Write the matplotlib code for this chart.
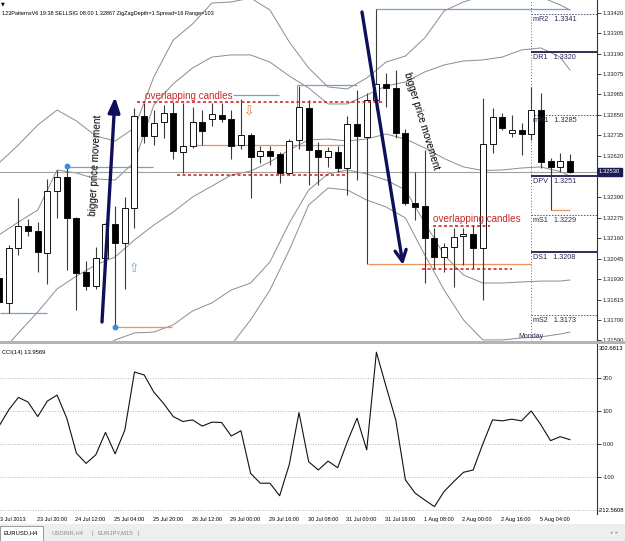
import matplotlib.pyplot as plt
from matplotlib.patches import Rectangle

# ---- EURUSD H4 candles, 23 Jul 2013 04:00 .. 5 Aug 2013 ----
opens = [1.31937, 1.31797, 1.32105, 1.32228, 1.32200, 1.32077, 1.32423, 1.32502, 1.32272, 1.31971,
         1.31892, 1.32049, 1.32239, 1.32133, 1.32328, 1.32843, 1.32731, 1.32809, 1.32859, 1.32641,
         1.32675, 1.32809, 1.32826, 1.32848, 1.32826, 1.32680, 1.32736, 1.32619, 1.32647, 1.32630,
         1.32524, 1.32708, 1.32887, 1.32652, 1.32613, 1.32641, 1.32552, 1.32798, 1.32725, 1.32932,
         1.33021, 1.32999, 1.32748, 1.32356, 1.32339, 1.32161, 1.32054, 1.32110, 1.32172, 1.32183,
         1.32105, 1.32686, 1.32837, 1.32748, 1.32764, 1.32742, 1.32876, 1.32591, 1.32557, 1.32591]
highs = [1.31971, 1.32121, 1.32384, 1.32267, 1.32250, 1.32490, 1.32541, 1.32563, 1.32278, 1.32032,
         1.32110, 1.32244, 1.32339, 1.32390, 1.32887, 1.32915, 1.32876, 1.32904, 1.32921, 1.32915,
         1.32893, 1.32876, 1.32915, 1.32915, 1.32876, 1.32938, 1.32748, 1.32675, 1.32675, 1.32641,
         1.32714, 1.33010, 1.32932, 1.32697, 1.32669, 1.32675, 1.32843, 1.32988, 1.32971, 1.33441,
         1.33083, 1.33100, 1.32770, 1.32530, 1.32652, 1.32216, 1.32133, 1.32216, 1.32216, 1.32233,
         1.32943, 1.32887, 1.32859, 1.32848, 1.32803, 1.33005, 1.32971, 1.32608, 1.32636, 1.32630]
lows = [1.31786, 1.31741, 1.32066, 1.32172, 1.31971, 1.31903, 1.32272, 1.31982, 1.31758, 1.31870,
        1.31875, 1.32026, 1.31663, 1.31875, 1.32216, 1.32692, 1.32680, 1.32720, 1.32602, 1.32524,
        1.32664, 1.32680, 1.32787, 1.32809, 1.32602, 1.32658, 1.32384, 1.32580, 1.32569, 1.32468,
        1.32513, 1.32658, 1.32457, 1.32457, 1.32557, 1.32530, 1.32401, 1.32485, 1.32015, 1.32876,
        1.32893, 1.32720, 1.32345, 1.32261, 1.31909, 1.31993, 1.31971, 1.31887, 1.32010, 1.31993,
        1.31814, 1.32636, 1.32764, 1.32725, 1.32625, 1.32708, 1.32552, 1.32317, 1.32530, 1.32524]
closes = [1.31803, 1.32105, 1.32228, 1.32200, 1.32082, 1.32423, 1.32502, 1.32272, 1.31965, 1.31892,
          1.32049, 1.32239, 1.32133, 1.32328, 1.32843, 1.32731, 1.32803, 1.32859, 1.32647, 1.32675,
          1.32809, 1.32759, 1.32854, 1.32826, 1.32675, 1.32736, 1.32613, 1.32647, 1.32619, 1.32524,
          1.32703, 1.32893, 1.32652, 1.32613, 1.32647, 1.32552, 1.32798, 1.32731, 1.32932, 1.33021,
          1.32999, 1.32748, 1.32356, 1.32334, 1.32161, 1.32054, 1.32110, 1.32166, 1.32183, 1.32105,
          1.32686, 1.32837, 1.32775, 1.32764, 1.32742, 1.32876, 1.32585, 1.32557, 1.32591, 1.32530]

cci = [55, 104, 142, 128, 84, 131, 149, 79, -27, -58, -32, 36, -29, 43, 219, 210, 158, 124, 84, 69,
       74, 55, 67, 66, 25, 41, -88, -118, -118, -156, -61, 96, -53, -78, -51, -71, 8, 79, -17, 279,
       175, 74, -108, -148, -169, -189, -143, -113, -85, -78, 1, 74, 71, 76, 71, 101, 59, 11, 23, 13.9569]

# Bollinger bands (20, 2) and (20, 3), read every second bar
band_bars = [0, 2, 4, 6, 8, 10, 12, 14, 16, 18, 20, 22, 24, 26, 28, 30, 32, 34, 36, 38,
             40, 42, 44, 46, 48, 50, 52, 54, 56, 58, 59]
bb_up3 = [1.32580, 1.32681, 1.32792, 1.32876, 1.32815, 1.32731, 1.32703, 1.32776, 1.33061, 1.33267,
          1.33357, 1.33474, 1.33480, 1.33502, 1.33435, 1.33256, 1.33111, 1.33005, 1.32994, 1.33055,
          1.33144, 1.33178, 1.33279, 1.33430, 1.33480, 1.33513, 1.33519, 1.33519, 1.33508, 1.33463, 1.33435]
bb_up2 = [1.32178, 1.32250, 1.32317, 1.32541, 1.32524, 1.32491, 1.32485, 1.32586, 1.32904, 1.33022,
          1.33111, 1.33172, 1.33184, 1.33184, 1.33144, 1.33066, 1.32999, 1.32910, 1.32910, 1.32960,
          1.33010, 1.33033, 1.33089, 1.33128, 1.33150, 1.33156, 1.33172, 1.33212, 1.33223, 1.33172, 1.33100]
bb_mid = [1.31507, 1.31630, 1.31747, 1.31876, 1.31948, 1.32010, 1.32055, 1.32150, 1.32233, 1.32306,
          1.32390, 1.32451, 1.32513, 1.32535, 1.32586, 1.32653, 1.32709, 1.32714, 1.32703, 1.32714,
          1.32742, 1.32714, 1.32664, 1.32605, 1.32558, 1.32538, 1.32541, 1.32552, 1.32558, 1.32532, 1.32507]
bb_lo2 = [None, None, None, None, None, 1.31524, 1.31591, 1.31630, 1.31635, 1.31675,
          1.31753, 1.31798, 1.31870, 1.31909, 1.32027, 1.32245, 1.32429, 1.32519, 1.32541, 1.32519,
          1.32485, 1.32429, 1.32245, 1.32066, 1.31954, 1.31909, 1.31909, 1.31915, 1.31920, 1.31920, 1.31926]
bb_lo3 = [None] * 12 + [1.31563, 1.31703, 1.31870, 1.32094, 1.32345, 1.32440, 1.32429, 1.32373,
                        1.32334, 1.32273, 1.32066, 1.31870, 1.31703, 1.31591, 1.31591, 1.31602, 1.31608,
                        1.31624, 1.31635]

# first label is cut at the window edge in the terminal
time_labels = ["3 Jul 2013", "23 Jul 20:00", "24 Jul 12:00", "25 Jul 04:00", "25 Jul 20:00",
               "26 Jul 12:00", "29 Jul 00:00", "29 Jul 16:00", "30 Jul 08:00", "31 Jul 00:00",
               "31 Jul 16:00", "1 Aug 08:00", "2 Aug 00:00", "2 Aug 16:00", "5 Aug 04:00"]
price_ticks = [1.33420, 1.33305, 1.33190, 1.33075, 1.32965, 1.32850, 1.32735, 1.32620,
               1.32390, 1.32275, 1.32160, 1.32045, 1.31930, 1.31815, 1.31700, 1.31590]

pivot_names = ["mR2", "DR1", "mR1", "DPV", "mS1", "DS1", "mS2"]
pivot_levels = [1.3341, 1.3320, 1.3285, 1.3251, 1.3229, 1.3208, 1.3173]
monday_bar = 55

# 123 pattern lines: (level, first bar, last bar, colour)
pattern_lines = [(1.31741, 0.1, 5.0, 'blue'), (1.32557, 7.0, 15.9, 'blue'),
                 (1.31663, 12.0, 17.9, 'orange'), (1.32960, 24.2, 28.9, 'blue'),
                 (1.32680, 19.6, 36.0, 'orange'), (1.33016, 30.8, 37.0, 'blue'),
                 (1.33441, 39.0, 59.0, 'blue'), (1.32015, 38.1, 55.0, 'orange'),
                 (1.32317, 57.0, 59.0, 'orange')]
pattern_dots = [(7, 1.32563), (12, 1.31663)]
# overlapping zones: (level, first bar, last bar)
overlap_lines = [(1.32921, 14.3, 39.7), (1.32513, 18.4, 36.0),
                 (1.32228, 44.9, 50.7), (1.31987, 43.7, 53.0)]

W, H = 625, 541
fig = plt.figure(figsize=(W / 100, H / 100), dpi=100)
FONT = 'Liberation Sans'

ax = fig.add_axes([0, 1 - 341 / H, 597 / W, 341 / H])
ax2 = fig.add_axes([0, 1 - 514.4 / H, 597 / W, 170 / H])
for a in (ax, ax2):
    a.set_xlim(0.1, 61.8)
    for s in ('top', 'left', 'bottom'):
        a.spines[s].set_visible(False)
    a.spines['right'].set_color('#333333')
    a.spines['right'].set_linewidth(0.8)
    a.set_xticks([])
    a.yaxis.tick_right()
    a.tick_params(axis='y', length=3, width=0.6, pad=1, labelsize=4.2, colors='#222222')

ax.set_ylim(1.31585, 1.33491)
ax.set_yticks(price_ticks)
ax.set_yticklabels([f"{t:.5f}" for t in price_ticks], family=FONT)

# bands
gray = '#8c8c8c'
for band in (bb_up3, bb_up2, bb_mid, bb_lo2, bb_lo3):
    xs = [b for b, v in zip(band_bars, band) if v is not None]
    ys = [v for v in band if v is not None]
    ax.plot(xs, ys, color=gray, lw=0.7, zorder=1)

# bid line
ax.axhline(closes[-1], color='#a0a0a0', lw=0.8, zorder=1)

# candles
for i in range(len(opens)):
    o, h, l, c = opens[i], highs[i], lows[i], closes[i]
    ax.vlines(i, l, h, color='#3a3a3a', lw=0.8, zorder=3)
    bottom = min(o, c)
    height = max(abs(c - o), 0.000025)
    face = 'white' if c >= o else 'black'
    ax.add_patch(Rectangle((i - 0.31, bottom), 0.62, height, facecolor=face,
                           edgecolor='#111111', lw=0.7, zorder=4))

# pattern lines
pcol = {'blue': '#6fa3cf', 'orange': '#e8945e'}
for lvl, x0, x1, col in pattern_lines:
    ax.hlines(lvl, x0, x1, color=pcol[col], lw=0.9, zorder=2)
ax.vlines(30.8, 1.33016, 1.32893, color='#6fa3cf', lw=0.8, zorder=2)
for bx, by in pattern_dots:
    ax.plot(bx, by, 'o', color='#3a8ede', ms=3.2, zorder=6)

# overlapping zones
for lvl, x0, x1 in overlap_lines:
    ax.hlines(lvl, x0, x1, color='#d01818', lw=1.1, linestyles=(0, (2, 1.6)), zorder=5)
ax.text(15.1, 1.32954, "overlapping candles", color='#c82828', fontsize=7.1,
        family=FONT, va='center', ha='left', zorder=7)
ax.text(44.9, 1.32267, "overlapping candles", color='#c82828', fontsize=7.1,
        family=FONT, va='center', ha='left', zorder=7)

# big arrows and texts
navy = '#10105a'
ax.annotate('', xy=(11.99, 1.32949), xytext=(10.64, 1.31691),
            arrowprops=dict(arrowstyle='-|>,head_length=0.9,head_width=0.35', lw=2.4,
                            color=navy, shrinkA=0, shrinkB=0), zorder=8)
ax.annotate('', xy=(41.75, 1.32010), xytext=(37.51, 1.33424),
            arrowprops=dict(arrowstyle='->,head_length=0.8,head_width=0.4', lw=2.4,
                            color=navy, shrinkA=0, shrinkB=0), zorder=8)
ax.text(9.95, 1.32568, "bigger price movement", rotation=87, fontsize=7.2, family=FONT,
        ha='center', va='center', rotation_mode='anchor', zorder=7)
ax.text(43.7, 1.32814, "bigger price movement", rotation=-73, fontsize=7.2, family=FONT,
        ha='center', va='center', rotation_mode='anchor', zorder=7)
ax.text(13.95, 1.31993, "\u21e7", color='#5aaee0', fontsize=9, ha='center', va='center',
        family='DejaVu Sans', zorder=7)
ax.text(25.83, 1.32865, "\u21e9", color='#e8743e', fontsize=9, ha='center', va='center',
        family='DejaVu Sans', zorder=7)

# pivots
ax.axvline(monday_bar, color='#666680', lw=0.7, ls=(0, (1, 2)), zorder=2)
for name, lvl in zip(pivot_names, pivot_levels):
    if name.startswith('m'):
        ax.hlines(lvl, monday_bar, 61.8, color='#555570', lw=0.7, linestyles=(0, (1.5, 1.5)), zorder=2)
    else:
        ax.hlines(lvl, monday_bar, 61.8, color='#1e1e4a', lw=1.3, zorder=2)
    ax.annotate(f"{name}   {lvl:.4f}", xy=(monday_bar, lvl), xytext=(2, -2),
                textcoords='offset pixels', va='top', ha='left', fontsize=5.2,
                family=FONT, color='#2a2a50', zorder=7)
ax.text(monday_bar, 1.31608, "Monday", fontsize=5, family=FONT, color='#2a2a60',
        ha='center', va='center', zorder=7)

# highlighted bid price
ax.annotate(f"{closes[-1]:.5f}", xy=(1.0, closes[-1]), xycoords=('axes fraction', 'data'),
            xytext=(2, 0), textcoords='offset pixels', va='center', ha='left', fontsize=4.2,
            family=FONT, color='white', annotation_clip=False, zorder=9,
            bbox=dict(boxstyle='square,pad=0.25', fc='#1c1c50', ec='#1c1c50'))

# CCI pane
ax2.set_ylim(-212.5608, 302.6813)
for lv in (200, 100, 0, -100, -200):
    ax2.axhline(lv, color='#a0a0a0', lw=0.6, ls=(0, (1, 2)), zorder=1)
ax2.plot(range(len(cci)), cci, color='#111111', lw=0.8, zorder=3)
ax2.set_yticks([200, 100, 0, -100])
ax2.set_yticklabels(['200', '100', '0.00', '-100'], family=FONT)
ax2.annotate("302.6813", xy=(1.0, 1.0), xycoords='axes fraction', xytext=(2, -1.5),
             textcoords='offset pixels', va='top', ha='left', fontsize=4.2, family=FONT,
             annotation_clip=False)
ax2.annotate("-212.5608", xy=(1.0, 0.0), xycoords='axes fraction', xytext=(1, 1.5),
             textcoords='offset pixels', va='bottom', ha='left', fontsize=4.2, family=FONT,
             annotation_clip=False)
ax2.text(0.004, 0.965, f"CCI(14) {cci[-1]:.4f}", transform=ax2.transAxes, fontsize=4.2,
         family=FONT, va='top', ha='left')

for k, lab in enumerate(time_labels):
    dx = 1 if k == 0 else -1
    ax2.annotate(lab, xy=(4 * k, 0), xycoords=('data', 'axes fraction'), xytext=(dx, -3),
                 textcoords='offset pixels', va='top', ha='left', fontsize=4.0,
                 family=FONT, annotation_clip=False)

# header
fig.text(2 / W, 1 - 13 / H, "123PatternsV6 19:38 SELLSIG 08:00 1.32867 ZigZagDepth=1 Spread=16 Range=103",
         fontsize=4.0, family=FONT, va='center', ha='left')
fig.text(1 / W, 1 - 4 / H, "\u25bc", fontsize=3.5, va='center', ha='left')

# pane separator and tabs
fig.patches.append(Rectangle((0, 1 - 344.4 / H), 1, 3.4 / H, transform=fig.transFigure,
                             fc='#b4b4b4', ec='none'))
fig.patches.append(Rectangle((0, 0), 1, 17 / H, transform=fig.transFigure, fc='#eeeeee', ec='none'))
fig.patches.append(Rectangle((0, 0), 43 / W, 15 / H, transform=fig.transFigure, fc='white',
                             ec='#8a8a8a', lw=0.6))
fig.text(4 / W, 8 / H, "EURUSD,H4", fontsize=4.2, family=FONT, va='center')
fig.text(52 / W, 8 / H, "USDINR,H4", fontsize=4.2, family=FONT, va='center', color='#8a8a8a')
fig.text(92 / W, 8 / H, "|", fontsize=4.2, family=FONT, va='center', color='#8a8a8a')
fig.text(97 / W, 8 / H, "EURJPY,M15", fontsize=4.2, family=FONT, va='center', color='#8a8a8a')
fig.text(137 / W, 8 / H, "|", fontsize=4.2, family=FONT, va='center', color='#8a8a8a')
fig.text(610 / W, 8 / H, "\u25c2  \u25b8", fontsize=3.5, va='center', color='#9a9a9a')

fig.savefig("out.png", dpi=100)
